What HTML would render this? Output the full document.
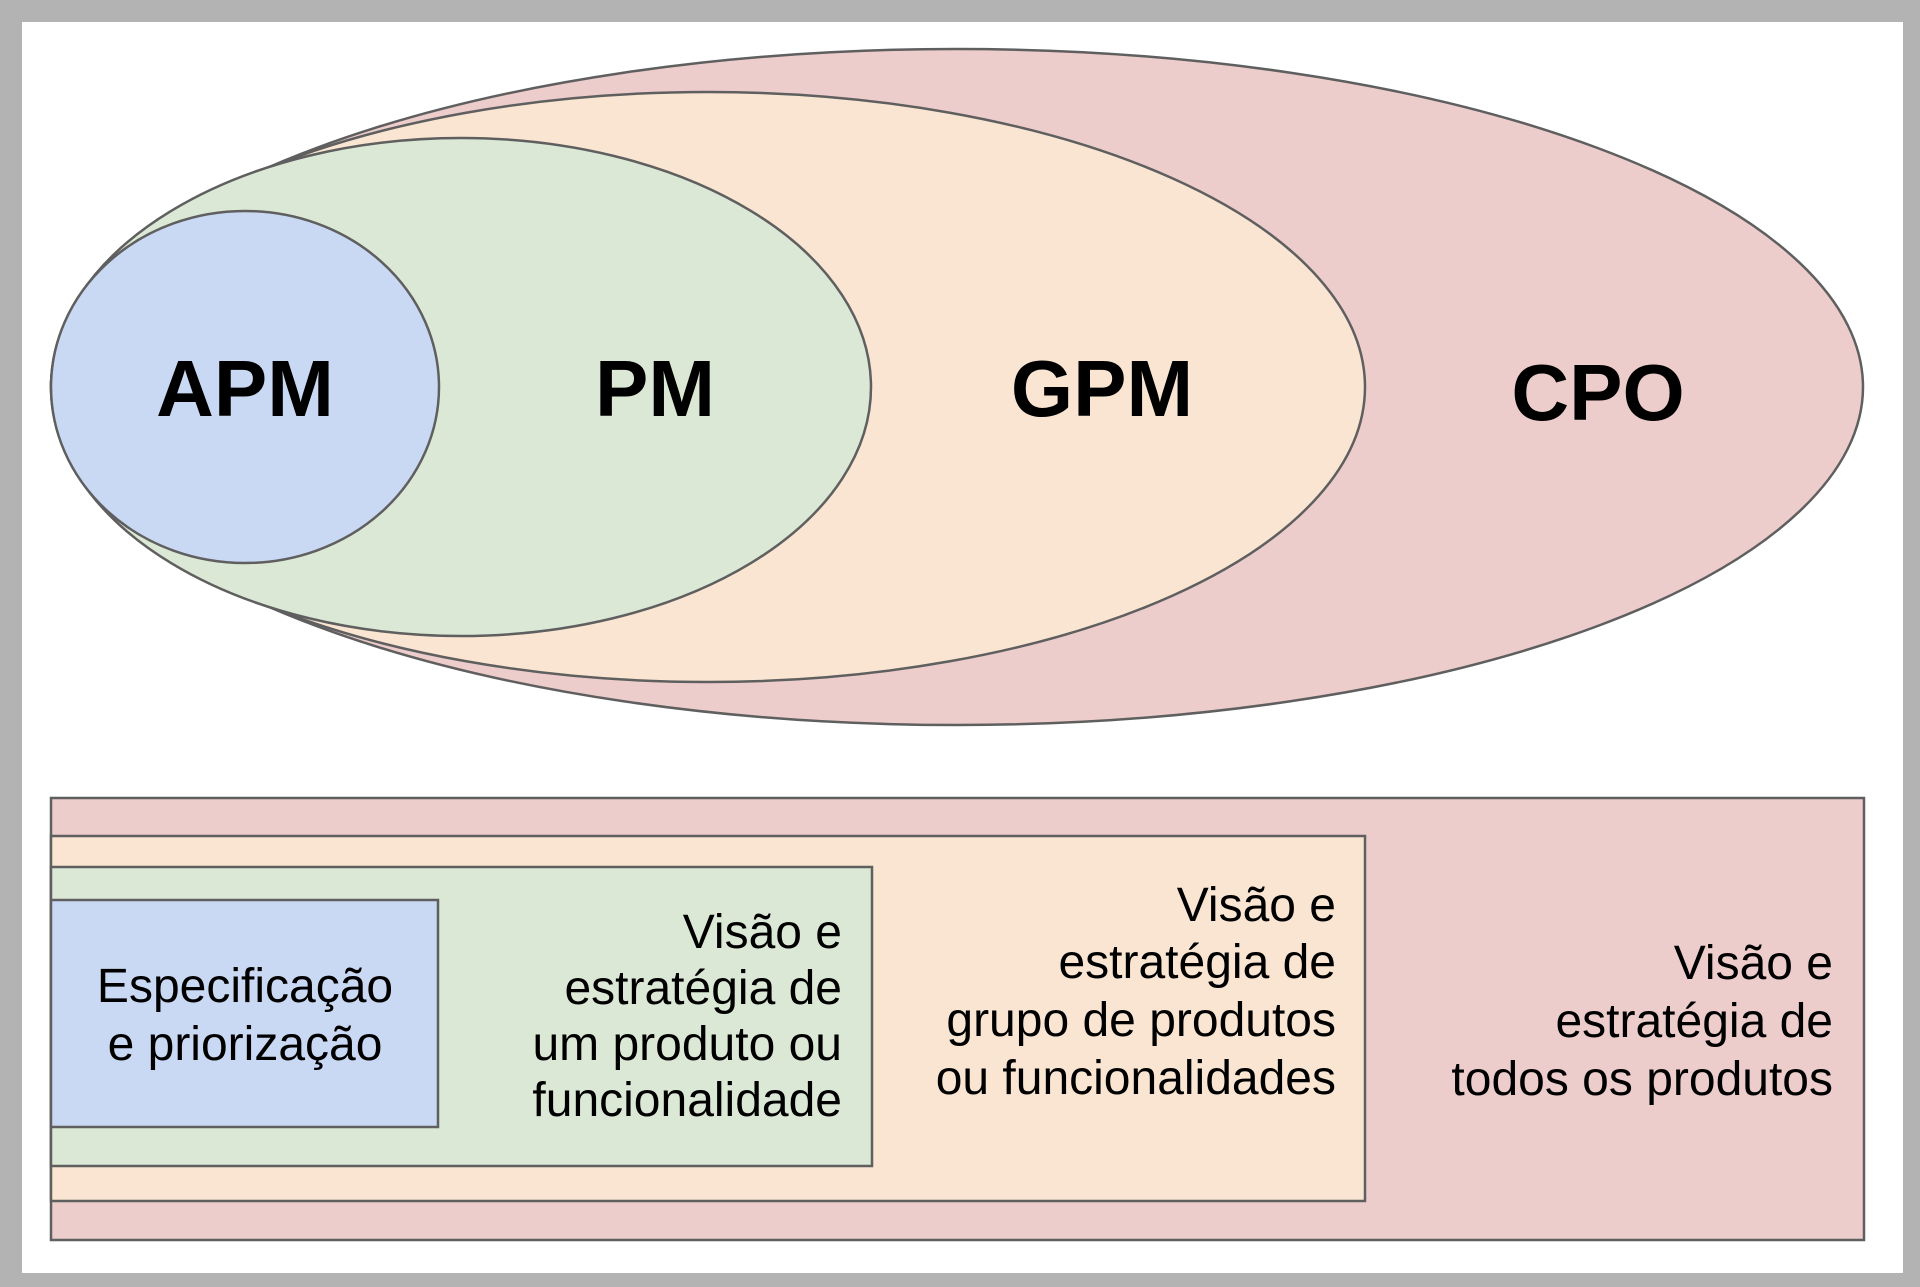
<!DOCTYPE html>
<html><head><meta charset="utf-8"><style>
html,body{margin:0;padding:0;background:#b3b3b3;}
svg{display:block;}
</style></head><body>
<svg width="1920" height="1287" viewBox="0 0 1920 1287" xmlns="http://www.w3.org/2000/svg" font-family="Liberation Sans, Arial, sans-serif">
<rect x="0" y="0" width="1920" height="1287" fill="#b3b3b3"/>
<rect x="22" y="22" width="1881" height="1251" fill="#ffffff"/>
<g stroke="#5f5f5f" stroke-width="2.5">
<ellipse cx="957" cy="387" rx="906" ry="338" fill="#eccdcc"/>
<ellipse cx="708" cy="387" rx="657" ry="295" fill="#f9e5d2"/>
<ellipse cx="461" cy="387" rx="410" ry="249" fill="#dce8d6"/>
<ellipse cx="245" cy="387" rx="194" ry="176" fill="#cad9f3"/>
<rect x="51" y="798" width="1813" height="442" fill="#eccdcc"/>
<rect x="51" y="836" width="1314" height="365" fill="#f9e5d2"/>
<rect x="51" y="867" width="821" height="299" fill="#dce8d6"/>
<rect x="51" y="900" width="387" height="227" fill="#cad9f3"/>
</g>
<g font-weight="bold" font-size="80" text-anchor="middle" fill="#000">
<text x="245" y="416">APM</text>
<text x="655" y="416">PM</text>
<text x="1102" y="416">GPM</text>
<text x="1598" y="420">CPO</text>
</g>
<g font-size="48" fill="#000">
<g text-anchor="middle">
<text x="245" y="1002">Especificação</text>
<text x="245" y="1060">e priorização</text>
</g>
<g text-anchor="end">
<text x="842" y="948">Visão e</text>
<text x="842" y="1004">estratégia de</text>
<text x="842" y="1060">um produto ou</text>
<text x="842" y="1116">funcionalidade</text>
<text x="1336" y="921">Visão e</text>
<text x="1336" y="978">estratégia de</text>
<text x="1336" y="1036">grupo de produtos</text>
<text x="1336" y="1094">ou funcionalidades</text>
<text x="1833" y="979">Visão e</text>
<text x="1833" y="1037">estratégia de</text>
<text x="1833" y="1095">todos os produtos</text>
</g>
</g>
</svg>
</body></html>
